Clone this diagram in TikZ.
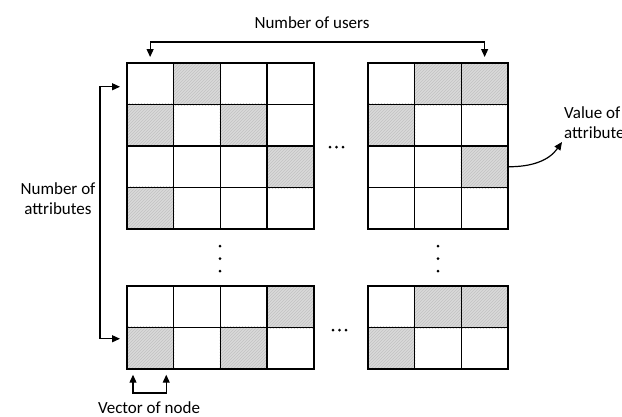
\documentclass[tikz,border=0pt]{standalone}
\usepackage{fontspec}
\setmainfont{Carlito}
\usetikzlibrary{arrows.meta,patterns,backgrounds}
\tikzset{
    cell/.style = {
        draw,
        line width=1.5pt,
        minimum width=46.75pt,
        minimum height=41.6pt,
        inner sep=0pt,
        anchor=north west,
        },
    shaded/.style = {
        preaction={fill=black!15},
        pattern=north east lines,
        pattern color=black!24,
        },
    conn/.style = {
        line width=1.2pt,
        },
    tip/.style = {
        -{Triangle[length=8pt,width=7pt]},
        },
    both tips/.style = {
        {Triangle[length=8pt,width=7pt]}-{Triangle[length=8pt,width=7pt]},
        },
    txt/.style = {
        font=\fontsize{17}{20}\selectfont,
        inner sep=0pt,
        },
}
\begin{document}
\begin{tikzpicture}[x=1pt, y=-1pt]
    \useasboundingbox (0,0) rectangle (622,416);

    % the four matrices
    \foreach \g/\gx/\gy/\nc/\nr in {A/126/62/4/4, B/367/62/3/4, C/126/285/4/2, D/367/285/3/2}
        \foreach \r in {1,...,\nr}
            \foreach \c in {1,...,\nc}
                \node[cell] (\g-\r-\c) at ({\gx+(\c-1)*46.75}, {\gy+(\r-1)*41.6}) {};

    % shaded cells
    \begin{scope}[on background layer]
        \foreach \n in {A-1-2, A-2-1, A-2-3, A-3-4, A-4-1, B-1-2, B-1-3, B-2-1, B-3-3,
                        C-1-4, C-2-1, C-2-3, D-1-2, D-1-3, D-2-1}
            \fill[shaded] (\n.north west) rectangle (\n.south east);
    \end{scope}

    % dots
    \foreach \x in {330,336.5,343} \fill (\x,147) circle (1.5);
    \foreach \x in {333,339.5,346} \fill (\x,330) circle (1.5);
    \foreach \y in {246,258.5,271} {
        \fill (220,\y) circle (1.5);
        \fill (438,\y) circle (1.5);
    }

    % labels
    \node[txt, anchor=base] (users) at (312,28) {Number of users};
    \node[txt, align=center] (attrs) at (58,199) {Number of\\attributes};
    \node[txt, anchor=base] (vec) at (149,413) {Vector of node};
    \node[txt, align=left, anchor=north west] (val) at (564,106) {Value of\\attribute};

    \coordinate (utop) at (316,42);
    \coordinate (aleft) at (100,200);
    \coordinate (vbot) at (149,393);
    \coordinate (vtip) at (562,142);

    \draw[conn, both tips, shorten <=5pt, shorten >=5pt] (A-1-1.north) |- (utop) -| (B-1-3.north);
    \draw[conn, both tips, shorten <=6pt, shorten >=6pt] ([yshift=-3.2pt]A-1-1.west) -| (aleft) |- ([yshift=9.4pt]C-2-1.west);
    \draw[conn, both tips, shorten <=5pt, shorten >=5pt] ([xshift=7pt]C-2-1.south west) |- (vbot) -| ([xshift=-8pt]C-2-1.south east);
    \draw[conn, tip] (B-3-3.east) to[out=0, in=235] (vtip);
\end{tikzpicture}
\end{document}
